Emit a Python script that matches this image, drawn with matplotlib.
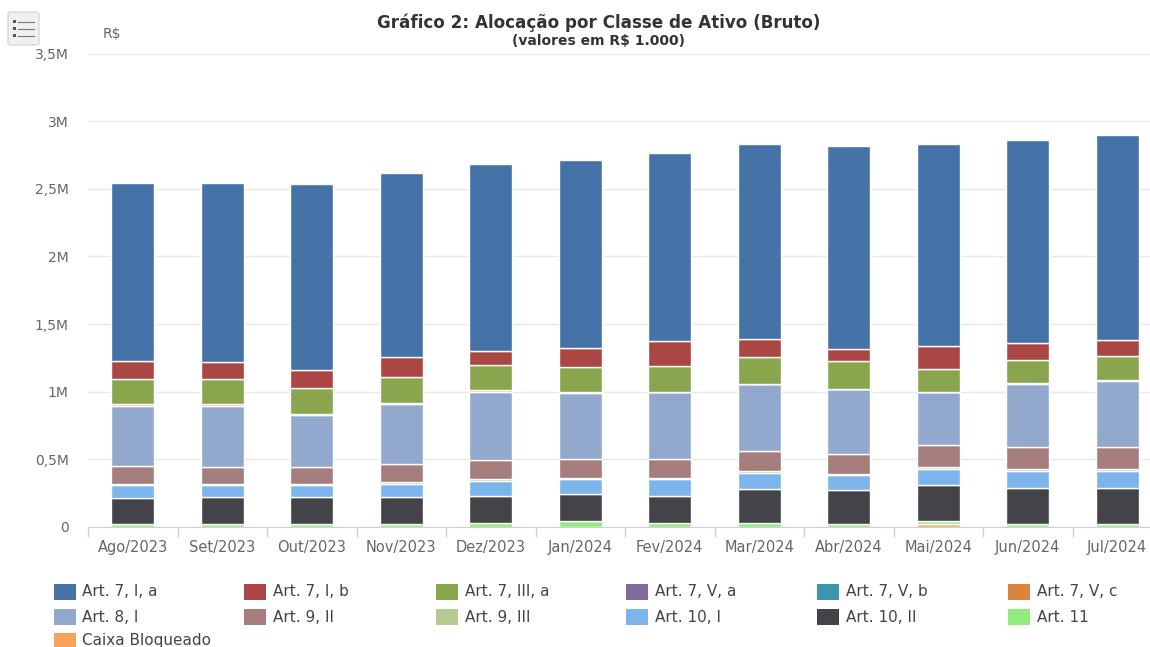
import matplotlib
matplotlib.use('Agg')
import matplotlib.pyplot as plt
import numpy as np
from matplotlib.patches import Rectangle, FancyBboxPatch

#values in R$ 1.000
months = ['Ago/2023', 'Set/2023', 'Out/2023', 'Nov/2023', 'Dez/2023', 'Jan/2024',
          'Fev/2024', 'Mar/2024', 'Abr/2024', 'Mai/2024', 'Jun/2024', 'Jul/2024']
art_7_i_a = [1312, 1325, 1375, 1358, 1381, 1395, 1393, 1445, 1500, 1496, 1499, 1515]
art_7_i_b = [133, 123, 131, 148, 101, 140, 180, 128, 89, 172, 126, 120]
art_7_iii_a = [187, 187, 192, 192, 189, 183, 192, 202, 202, 170, 168, 180]
art_7_v_a = [0, 0, 0, 0, 0, 0, 0, 0, 0, 0, 0, 0]
art_7_v_b = [0, 0, 0, 0, 0, 0, 0, 0, 0, 0, 0, 0]
art_7_v_c = [12, 12, 12, 12, 10, 10, 5, 0, 5, 0, 5, 5]
art_8_i = [443, 453, 384, 443, 505, 485, 493, 497, 476, 392, 466, 486]
art_9_ii = [133, 123, 121, 133, 140, 138, 140, 148, 148, 160, 163, 163]
art_9_iii = [10, 10, 10, 10, 12, 10, 10, 12, 10, 12, 17, 17]
art_10_i = [98, 91, 89, 101, 111, 113, 121, 118, 113, 123, 123, 123]
art_10_ii = [190, 197, 200, 197, 200, 195, 200, 251, 247, 261, 266, 266]
art_11 = [22, 22, 22, 22, 32, 46, 32, 32, 24, 24, 24, 24]
caixa_bloqueado = [0, 0, 0, 0, 0, 0, 0, 0, 0, 24, 0, 0]

series_names = ['Art. 7, I, a', 'Art. 7, I, b', 'Art. 7, III, a', 'Art. 7, V, a', 'Art. 7, V, b', 'Art. 7, V, c',
                'Art. 8, I', 'Art. 9, II', 'Art. 9, III', 'Art. 10, I', 'Art. 10, II', 'Art. 11', 'Caixa Bloqueado']
series_values = [art_7_i_a, art_7_i_b, art_7_iii_a, art_7_v_a, art_7_v_b, art_7_v_c,
                 art_8_i, art_9_ii, art_9_iii, art_10_i, art_10_ii, art_11, caixa_bloqueado]
series_colors = ['#4572A7', '#AA4643', '#89A54E', '#80699B', '#3D96AE', '#DB843D',
                 '#92A8CD', '#A47D7C', '#B5CA92', '#7CB5EC', '#434348', '#90ED7D', '#F7A35C']
y_ticks = [0, 500, 1000, 1500, 2000, 2500, 3000, 3500]
y_labels = ['0', '0,5M', '1M', '1,5M', '2M', '2,5M', '3M', '3,5M']

W = 1150
H = 647
GRAY = '#666666'
plt.rcParams['font.family'] = ['DejaVu Sans']

fig = plt.figure(figsize=(W/100, H/100), dpi=100)
ax = fig.add_axes([88/W, (H-527)/H, 1074/W, 473.5/H])

#stacked from the bottom, so the last series sits on the axis
x = np.arange(len(months))
bottom = np.zeros(len(months))
for name, vals, col in reversed(list(zip(series_names, series_values, series_colors))):
    ax.bar(x, vals, width=0.48, bottom=bottom, color=col, edgecolor='white', linewidth=1, zorder=3, label=name)
    bottom += np.array(vals)

ax.set_xlim(-0.5, len(months)-0.5)
ax.set_ylim(0, 3500)
ax.set_yticks(y_ticks)
ax.set_yticklabels(y_labels, fontsize=10, color=GRAY)
ax.set_xticks(x)
ax.set_xticklabels(months, fontsize=10.5, color=GRAY)
ax.tick_params(axis='y', length=0, pad=14)
ax.tick_params(axis='x', length=0, pad=9.5)
#ticks sit between the categories
ax.set_xticks(np.arange(len(months)+1)-0.5, minor=True)
ax.tick_params(axis='x', which='minor', length=7, color='#d0d0d0', width=1)
ax.grid(axis='y', color='#e8e8e8', linewidth=1, zorder=0)
for side in ['top', 'right', 'left']:
    ax.spines[side].set_visible(False)
ax.spines['bottom'].set_color('#d0d0d0')

#titles
fig.text(599/W, 1-23/H, 'Gráfico 2: Alocação por Classe de Ativo (Bruto)', fontsize=12.1, fontweight='bold',
         color='#333333', ha='center', va='center')
fig.text(599/W, 1-41/H, '(valores em R$ 1.000)', fontsize=10, fontweight='bold',
         color='#333333', ha='center', va='center')
fig.text(103/W, 1-34/H, 'R$', fontsize=10, color=GRAY, ha='left', va='center')

#menu button
fig.add_artist(FancyBboxPatch((8/W, 1-45/H), 31/W, 33/H, boxstyle='round,pad=0,rounding_size=0.003',
                              transform=fig.transFigure, facecolor='#f0f0f0', edgecolor='#d8d8d8', linewidth=1))
for yy in [22, 29, 36]:
    fig.add_artist(Rectangle((13/W, 1-(yy+1)/H), 3/W, 3/H, transform=fig.transFigure, facecolor='#555555', edgecolor='none'))
    fig.add_artist(plt.Line2D([18/W, 34/W], [1-yy/H, 1-yy/H], transform=fig.transFigure, color='#777777', linewidth=0.8))

#legend laid out in rows like the original
legend_x = [53.5, 244, 436, 626, 817, 1008]
legend_y = [592, 617, 641]
for i, (name, col) in enumerate(zip(series_names, series_colors)):
    lx = legend_x[i % 6]
    ly = legend_y[i // 6]
    fig.add_artist(Rectangle((lx/W, 1-(ly+8)/H), 22/W, 16/H, transform=fig.transFigure, facecolor=col, edgecolor='none'))
    fig.text((lx+29)/W, 1-ly/H, name, fontsize=11, color='#444444', ha='left', va='center')

fig.savefig('out.png', dpi=100)
